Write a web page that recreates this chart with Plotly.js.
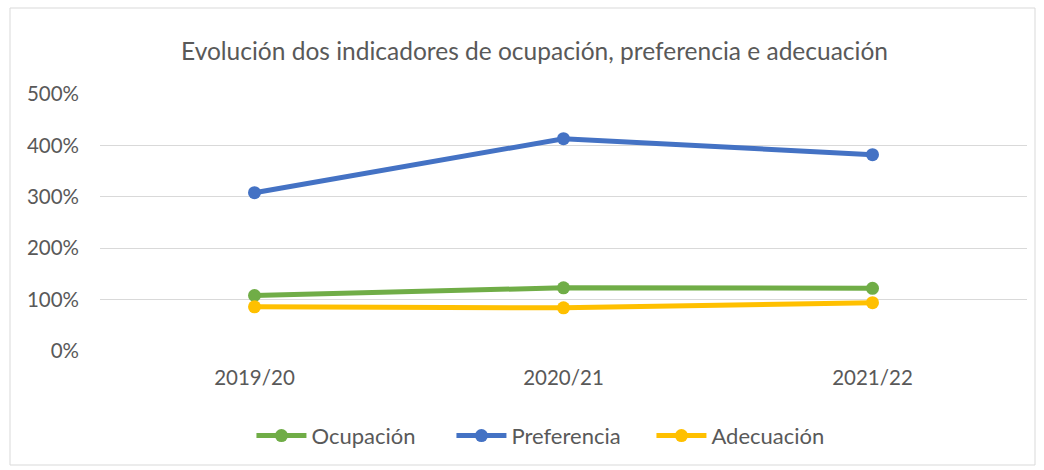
<!DOCTYPE html>
<html>
<head>
<meta charset="utf-8">
<script src="https://cdn.plot.ly/plotly-3.0.1.min.js"></script>
<style>html,body{margin:0;padding:0;background:#fff;}#chart{width:1044px;height:470px;}</style>
</head>
<body>
<div id="chart"></div>
<script>
const categories = ['2019/20', '2020/21', '2021/22'];
const ocupacion = [108, 123, 122];
const preferencia = [308, 413, 382];
const adecuacion = [86, 84, 94];
const yTicks = [0, 100, 200, 300, 400, 500];
const yTickLabels = ['0%', '100%', '200%', '300%', '400%', '500%'];

const font = 'Lato, "Open Sans", sans-serif';
const mk = (name, y, color) => ({
  type: 'scatter', mode: 'lines+markers', name: name,
  x: categories, y: y,
  line: {color: color, width: 5},
  marker: {color: color, size: 13}
});

const data = [
  mk('Ocupación', ocupacion, '#70AD47'),
  mk('Preferencia', preferencia, '#4472C4'),
  mk('Adecuación', adecuacion, '#FFC000')
];

const layout = {
  width: 1044, height: 470,
  margin: {l: 100, r: 17, t: 94, b: 119},
  paper_bgcolor: '#fff', plot_bgcolor: '#fff',
  font: {family: font, color: '#595959', size: 20},
  title: {text: 'Evolución dos indicadores de ocupación, preferencia e adecuación',
          font: {family: font, size: 24.5, color: '#595959'},
          x: 0.512, xanchor: 'center', y: 0.89, yanchor: 'middle'},
  xaxis: {type: 'category', range: [-0.5, 2.5], showgrid: false, zeroline: false, showline: false,
          ticks: '', ticklabelstandoff: 12, tickfont: {size: 20.5, color: '#595959'}},
  yaxis: {range: [0, 500], tickvals: yTicks, ticktext: yTickLabels, showgrid: true,
          gridcolor: '#D9D9D9', gridwidth: 1, zeroline: false, showline: false,
          ticks: '', ticklabelstandoff: 20, tickfont: {size: 20.5, color: '#595959'}},
  showlegend: true,
  legend: {orientation: 'h', x: 0.487, xanchor: 'center', y: -0.33, yanchor: 'middle',
           font: {size: 22, color: '#595959'}, itemwidth: 50, entrywidth: 135,
           traceorder: 'normal'},
  shapes: [{type: 'rect', xref: 'paper', yref: 'paper',
            x0: (10 - 100) / 927, x1: (1035 - 100) / 927,
            y0: (470 - 119 - 465) / 257, y1: (470 - 119 - 8) / 257,
            line: {color: '#D9D9D9', width: 1}, fillcolor: 'rgba(0,0,0,0)'}]
};

Plotly.newPlot('chart', data, layout, {displayModeBar: false, staticPlot: true});
</script>
</body>
</html>
